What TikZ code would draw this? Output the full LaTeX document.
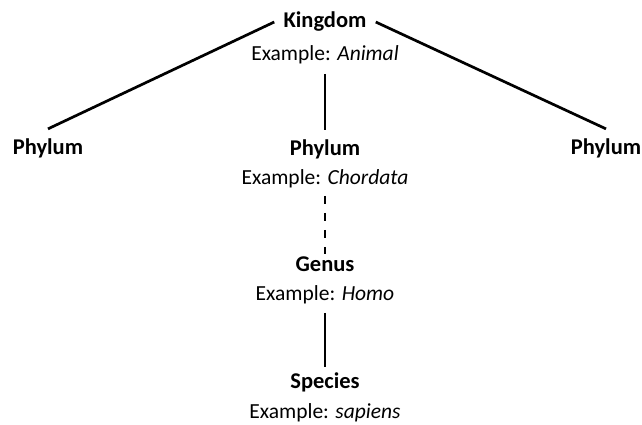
\documentclass[tikz,border=0pt]{standalone}
\usepackage{fontspec}
\setmainfont{Carlito}
\begin{document}
\begin{tikzpicture}[
	x=1pt, y=-1pt,
	ttl/.style={font=\fontsize{22.5}{26}\selectfont\bfseries, anchor=base, inner sep=8pt},
	ex/.style={font=\fontsize{21.5}{25}\selectfont, anchor=base, inner sep=8pt},
	gap/.style={dash pattern=on 8pt off 9pt},
	line width=2.7pt
	]
	\useasboundingbox (0,0) rectangle (642,425);
	% --- kingdom ---
	\node[ttl] (kingdom) at (325,28) {Kingdom};
	\node[ex] (kingdomex) at (325,61) {Example: \textit{Animal}};
	% --- phyla ---
	\node[ttl] (phylumL) at (48,154) {Phylum};
	\node[ttl] (phylumM) at (325,155) {Phylum};
	\node[ex] (phylumMex) at (325,184) {Example: \textit{Chordata}};
	\node[ttl] (phylumR) at (606,154) {Phylum};
	% --- genus and species ---
	\node[ttl] (genus) at (325,271) {Genus};
	\node[ex] (genusex) at (325,300) {Example: \textit{Homo}};
	\node[ttl] (species) at (325,388) {Species};
	\node[ex] (speciesex) at (325,418) {Example: \textit{sapiens}};
	% --- links ---
	\draw (kingdom.west) -- (phylumL.north);
	\draw (kingdom.east) -- (phylumR.north);
	\draw (kingdomex.south) -- (phylumM.north);
	\draw[gap, shorten <=-1pt, shorten >=-7pt] (phylumMex.south) -- (genus.north);
	\draw[shorten >=-4pt] (genusex.south) -- (species.north);
\end{tikzpicture}
\end{document}
